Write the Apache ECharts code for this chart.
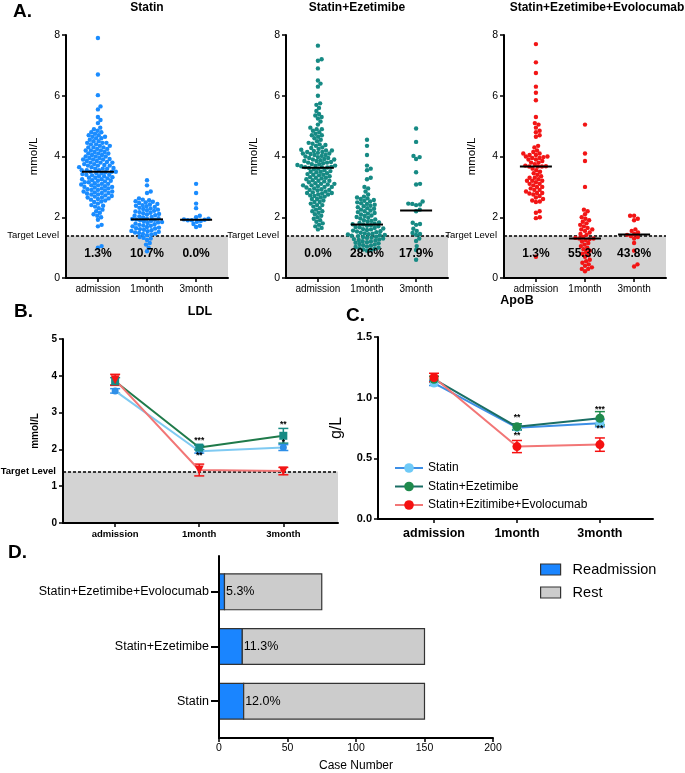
<!DOCTYPE html>
<html><head><meta charset="utf-8">
<script src="https://cdn.jsdelivr.net/npm/echarts@6/dist/echarts.min.js"></script>
<style>html,body{margin:0;padding:0;background:#fff}#c{width:685px;height:773px}</style>
</head><body><div id="c"></div>
<script>
const FONT = '"Liberation Sans", Arial, Helvetica, sans-serif';
const timepoints = ['admission', '1month', '3month'];
const targetLevel = 1.4;

// ---------- Panel A: individual LDL values (mmol/L) ----------
const statinAdmission = [7.9,6.7,6.02,5.65,5.55,5.3,5.2,5.1,
 4.95,4.9,4.85,4.8,4.8,4.75,4.7,4.7,4.65,4.65,4.6,4.6,4.55,4.5,4.5,
 4.45,4.45,4.4,4.4,4.35,4.35,4.3,4.3,4.25,4.25,4.2,4.2,4.15,4.15,4.1,4.1,4.05,4.05,4.0,4.0,4.0,4.45,4.3,4.2,4.1,
 3.95,3.95,3.9,3.9,3.9,3.85,3.85,3.8,3.8,3.8,3.75,3.75,3.7,3.7,3.7,3.65,3.65,3.6,3.6,3.6,3.55,3.55,3.55,3.5,3.5,3.5,3.92,3.82,3.72,3.62,
 3.48,3.45,3.45,3.42,3.4,3.4,3.38,3.35,3.35,3.32,3.3,3.3,3.28,3.25,3.25,3.22,3.2,3.2,3.18,3.15,3.15,3.12,3.1,3.1,3.08,3.05,3.05,3.02,3.0,3.0,
 2.98,2.95,2.95,2.92,2.9,2.9,2.88,2.85,2.85,2.82,2.8,2.8,2.78,2.75,2.75,2.72,2.7,2.68,2.65,2.65,2.62,2.6,2.58,2.55,2.52,2.5,
 2.45,2.4,2.38,2.35,2.3,2.25,2.2,2.15,2.1,2.05,2.0,1.92,1.75,1.7,1.05,1.0];
const statin1Month = [3.22,3.05,2.85,2.8,2.62,
 2.58,2.56,2.53,2.51,2.49,2.47,2.44,2.42,2.4,2.38,2.36,2.34,2.31,2.29,2.27,2.25,2.23,2.21,2.19,2.17,2.15,2.13,2.11,2.09,2.07,2.05,2.03,2.01,1.99,1.97,1.95,1.94,
 1.93,
 1.92,1.9,1.88,1.86,1.84,1.83,1.81,1.79,1.77,1.75,1.73,1.72,1.7,1.68,1.66,1.64,1.63,1.61,1.59,1.57,1.55,1.54,1.52,1.5,1.48,1.46,1.45,1.43,1.41,
 1.35,1.32,1.3,1.25,1.15,1.1,1.0,0.88];
const statin3Month = [3.1,2.8,2.45,2.3,2.05,2.0,1.95,1.93,1.92,1.9,1.9,1.88,1.85,1.78,1.72,1.68];

const ezeAdmission = [7.65,7.2,7.15,6.9,6.5,6.4,6.3,6.0,5.75,5.7,5.6,5.5,5.4,5.35,5.3,5.25,5.15,5.05,
 4.95,4.9,4.85,4.8,4.75,4.7,4.65,4.6,4.55,4.5,4.9,4.7,
 4.45,4.42,4.4,4.38,4.35,4.3,4.28,4.25,4.22,4.2,4.18,4.15,4.12,4.1,4.08,4.05,4.02,4.0,4.2,4.15,4.1,4.05,
 3.98,3.95,3.92,3.9,3.88,3.85,3.82,3.8,3.78,3.75,3.72,3.7,3.68,3.66,3.65,3.64,3.85,3.75,3.7,3.65,3.95,3.9,3.8,
 3.62,3.6,3.58,3.55,3.52,3.5,3.48,3.45,3.42,3.4,3.38,3.35,3.32,3.3,3.28,3.25,3.22,3.2,3.18,3.15,
 3.12,3.1,3.08,3.05,3.02,3.0,2.98,2.95,2.92,2.9,2.88,2.85,2.82,2.8,2.78,2.75,
 2.72,2.7,2.68,2.65,2.6,2.55,2.5,2.45,2.4,2.35,2.3,2.25,2.2,2.15,2.1,2.05,2.0,1.95,1.9,1.85,
 1.8,1.75,1.7,1.65,1.6,2.9,3.1,3.3,3.5,2.6,2.4,2.2,2.8,3.0,3.2,3.4,2.5,2.75,3.05];
const eze1Month = [4.55,4.35,4.05,3.7,3.6,3.55,3.3,3.25,3.0,2.95,2.85,2.75,
 2.68,2.65,2.62,2.6,2.57,2.54,2.52,2.49,2.46,2.44,2.41,2.38,2.36,2.33,2.3,2.28,2.25,2.22,2.2,2.17,2.14,2.12,2.09,2.06,2.04,2.01,1.98,1.96,1.93,1.9,1.88,1.85,1.83,1.81,1.79,1.77,
 1.76,
 1.74,1.72,1.7,1.68,1.67,1.65,1.63,1.61,1.6,1.58,1.56,1.54,1.53,1.51,1.49,1.47,1.46,1.44,1.43,1.42,1.41,
 1.39,1.38,1.36,1.35,1.33,1.32,1.3,1.28,1.27,1.25,1.23,1.21,1.2,1.18,1.16,1.14,1.12,1.1,1.08,1.06,1.04,1.02,1.0,0.98,0.96,0.94,0.92,0.9];
const eze3Month = [4.92,4.48,4.02,3.98,3.92,3.48,3.1,3.08,2.52,2.45,2.44,2.42,2.4,2.25,2.2,1.82,1.78,1.75,1.62,1.55,1.48,1.45,1.42,1.3,1.22,1.05,0.92,0.6];

const evoAdmission = [7.7,7.1,6.75,6.3,6.1,5.85,5.3,5.1,5.05,4.95,4.85,4.8,4.7,4.65,4.35,4.3,4.2,4.15,4.1,4.1,
 4.05,4.05,4.0,4.0,3.98,3.95,3.95,3.9,3.9,3.85,3.8,3.8,3.75,3.7,3.68,3.67,3.67,3.67,
 3.6,3.55,3.5,3.45,3.4,3.35,3.3,3.25,3.2,3.2,3.15,3.1,3.1,3.05,3.0,2.95,2.9,2.85,2.8,2.8,2.78,2.75,2.7,2.65,2.6,2.55,2.52,2.5,2.2,2.15,2.0,1.97,3.3,3.0,2.9,3.2,0.7];
const evo1Month = [5.05,4.1,3.85,3.0,2.25,2.2,2.1,2.0,1.95,1.9,1.85,1.8,1.75,1.7,1.65,1.6,1.6,1.55,1.5,1.45,1.42,
 1.35,1.32,1.3,1.3,1.28,1.25,1.2,1.15,1.1,1.05,1.0,0.95,0.9,0.85,0.8,0.75,0.7,0.6,0.55,0.5,0.45,0.4,0.35,0.3,0.3,0.22];
const evo3Month = [2.05,2.05,1.95,1.9,1.6,1.55,1.5,1.45,1.42,1.38,1.35,1.3,1.15,0.9,0.45,0.38];

const statinMedians = [3.5, 1.93, 1.92];
const ezeMedians = [3.63, 1.76, 2.22];
const evoMedians = [3.67, 1.3, 1.43];
const statinBelowPct = ['1.3%', '10.7%', '0.0%'];
const ezeBelowPct = ['0.0%', '28.6%', '17.9%'];
const evoBelowPct = ['1.3%', '55.3%', '43.8%'];

// ---------- Panel B: LDL mean ± SEM (mmol/L) ----------
const ldlStatin = [3.59, 1.95, 2.05];
const ldlStatinErr = [0.06, 0.05, 0.08];
const ldlEze = [3.85, 2.05, 2.37];
const ldlEzeErr = [0.1, 0.06, 0.2];
const ldlEvo = [3.89, 1.44, 1.41];
const ldlEvoErr = [0.15, 0.16, 0.1];
const ldlStars = [[1, 2.24, '***'], [1, 1.83, '**'], [2, 2.66, '**'], [2, 2.17, '*']];

// ---------- Panel C: ApoB mean ± SEM (g/L) ----------
const apoStatin = [1.12, 0.753, 0.79];
const apoStatinErr = [0.02, 0.02, 0.03];
const apoEze = [1.152, 0.76, 0.83];
const apoEzeErr = [0.025, 0.025, 0.055];
const apoEvo = [1.166, 0.597, 0.613];
const apoEvoErr = [0.035, 0.05, 0.055];
const apoStars = [[1, 0.835, '**'], [1, 0.69, '**'], [2, 0.905, '***'], [2, 0.745, '**']];

// ---------- Panel D: readmission ----------
const groups = ['Statin', 'Statin+Ezetimibe', 'Statin+Ezetimibe+Evolocumab'];
const readmission = [18, 17, 4];
const rest = [132, 133, 71];
const readmissionPct = ['12.0%', '11.3%', '5.3%'];

// ---------- layout ----------
const gridsA = [
  {left: 66, top: 35, width: 162, height: 243},
  {left: 286, top: 35, width: 162, height: 243},
  {left: 504, top: 35, width: 162, height: 243}
];
const gridB = {left: 63, top: 339, width: 275, height: 184};
const gridC = {left: 378, top: 337, width: 275, height: 182};
const gridD = {left: 219, top: 556, width: 274, height: 183};
const AX = [-0.65, 2.65];

function swarm(values, cat, grid, yMax, xRange, d) {
  const pyu = grid.height / yMax;
  const pxu = grid.width / (xRange[1] - xRange[0]);
  const pts = values.map(v => ({v, py: v * pyu})).sort((a, b) => a.py - b.py);
  const placed = [], out = [];
  for (const p of pts) {
    const near = placed.filter(q => Math.abs(q.py - p.py) < d);
    const cands = [0];
    for (const q of near) {
      const dy = q.py - p.py, dx = Math.sqrt(d * d - dy * dy);
      cands.push(q.px + dx, q.px - dx);
    }
    cands.sort((a, b) => Math.abs(a) - Math.abs(b));
    let chosen = 0;
    for (const c of cands) {
      if (near.every(q => (q.px - c) ** 2 + (q.py - p.py) ** 2 >= d * d - 1e-6)) { chosen = c; break; }
    }
    p.px = chosen; placed.push(p);
    out.push([cat + chosen / pxu, p.v]);
  }
  return out;
}

function textSeries(idx, data, font, align) {
  return {
    type: 'custom', xAxisIndex: idx, yAxisIndex: idx, silent: true, z: 30,
    data: data.map(d => [d[0], d[1]]),
    renderItem: (p, api) => {
      const pt = api.coord([api.value(0), api.value(1)]);
      return {type: 'text', x: pt[0], y: pt[1],
        style: {text: data[p.dataIndex][2], fill: '#000', font: font, align: align || 'center', verticalAlign: 'middle'}};
    }
  };
}
function medianSeries(idx, medians) {
  return {
    type: 'custom', xAxisIndex: idx, yAxisIndex: idx, silent: true, z: 25,
    data: medians.map((m, i) => [i, m]),
    renderItem: (p, api) => {
      const pt = api.coord([api.value(0), api.value(1)]);
      return {type: 'line', shape: {x1: pt[0] - 16, y1: pt[1], x2: pt[0] + 16, y2: pt[1]},
        style: {stroke: '#000', lineWidth: 2}};
    }
  };
}
function errSeries(idx, means, errs, color) {
  return {
    type: 'custom', xAxisIndex: idx, yAxisIndex: idx, silent: true, z: 3,
    data: means.map((m, i) => [i, m, errs[i]]),
    renderItem: (p, api) => {
      const x = api.value(0), m = api.value(1), e = api.value(2);
      const t = api.coord([x, m + e]), b = api.coord([x, m - e]);
      const w = 5, st = {stroke: color, lineWidth: 1.5};
      return {type: 'group', children: [
        {type: 'line', shape: {x1: t[0], y1: t[1], x2: b[0], y2: b[1]}, style: st},
        {type: 'line', shape: {x1: t[0] - w, y1: t[1], x2: t[0] + w, y2: t[1]}, style: st},
        {type: 'line', shape: {x1: b[0] - w, y1: b[1], x2: b[0] + w, y2: b[1]}, style: st}
      ]};
    }
  };
}
function targetMarks(boldLabel, fs) {
  return {
    markArea: {silent: true, itemStyle: {color: '#d3d3d3'}, data: [[{yAxis: 0}, {yAxis: targetLevel}]]},
    markLine: {silent: true, symbol: 'none',
      lineStyle: {color: '#000', type: [3, 2], width: 1.5},
      label: {show: true, position: 'start', formatter: 'Target Level', color: '#000',
        fontSize: fs, fontWeight: boldLabel ? 'bold' : 'normal', fontFamily: FONT, distance: 7},
      data: [{yAxis: targetLevel}]}
  };
}

function catX(i, range, fs, bold, margin) {
  return {type: 'value', gridIndex: i, min: range[0], max: range[1], z: 10,
    axisLine: {show: true, onZero: false, lineStyle: {color: '#000', width: 2}},
    axisTick: {show: true, customValues: [0, 1, 2], length: 4, lineStyle: {color: '#000', width: 1.5}},
    axisLabel: {customValues: [0, 1, 2], formatter: v => timepoints[Math.round(v)], fontSize: fs,
      fontWeight: bold ? 'bold' : 'normal', color: '#000', fontFamily: FONT, margin: margin},
    splitLine: {show: false}};
}
function valY(i, max, interval, fs, bold, name, nameFs, nameBold, nameGap, fmt) {
  return {type: 'value', gridIndex: i, min: 0, max: max, interval: interval, z: 10,
    name: name, nameLocation: 'middle', nameGap: nameGap,
    nameTextStyle: {fontSize: nameFs, fontWeight: nameBold ? 'bold' : 'normal', color: '#000', fontFamily: FONT},
    axisLine: {show: true, onZero: false, lineStyle: {color: '#000', width: 2}},
    axisTick: {show: true, length: 4, lineStyle: {color: '#000', width: 1.5}},
    axisLabel: {fontSize: fs, fontWeight: bold ? 'bold' : 'normal', color: '#000', fontFamily: FONT, margin: 6,
      formatter: fmt},
    splitLine: {show: false}};
}

const panelA = [
  {vals: [statinAdmission, statin1Month, statin3Month], med: statinMedians, pct: statinBelowPct, color: '#1a8cff'},
  {vals: [ezeAdmission, eze1Month, eze3Month], med: ezeMedians, pct: ezeBelowPct, color: '#168a84'},
  {vals: [evoAdmission, evo1Month, evo3Month], med: evoMedians, pct: evoBelowPct, color: '#f21515'}
];

const grids = [...gridsA, gridB, gridC, gridD];
const xAxes = [], yAxes = [], series = [];
panelA.forEach((pa, i) => {
  xAxes.push(catX(i, AX, 10, false, 6));
  yAxes.push(valY(i, 8, 2, 10.5, false, 'mmol/L', 11.5, false, 26));
  let pts = [];
  pa.vals.forEach((v, c) => { pts = pts.concat(swarm(v, c, gridsA[i], 8, AX, 4.0)); });
  series.push(Object.assign({type: 'scatter', xAxisIndex: i, yAxisIndex: i, data: pts, symbolSize: 4.4,
    itemStyle: {color: pa.color, opacity: 1}, silent: true, z: 5}, targetMarks(false, 9.5)));
  series.push(medianSeries(i, pa.med));
  series.push(textSeries(i, pa.pct.map((t, c) => [c, 0.79, t]), 'bold 12px ' + FONT));
});

// Panel B
const BX = [-0.62, 2.65];
xAxes.push(catX(3, BX, 9.5, true, 6));
yAxes.push(valY(3, 5, 1, 10, true, 'mmol/L', 10, true, 23));
const lineDefs = (vals, name, lineColor, markColor, symbol, size, idx) => ({
  type: 'line', name: name, xAxisIndex: idx, yAxisIndex: idx, data: vals.map((v, i) => [i, v]),
  symbol: symbol, symbolSize: size, showSymbol: true, z: 5,
  lineStyle: {color: lineColor, width: 2}, itemStyle: {color: markColor}
});
series.push(Object.assign(lineDefs(ldlStatin, 'LDL Statin', '#7fcaf2', '#2e8fe8', 'circle', 7, 3), targetMarks(true, 9.5)));
series.push(lineDefs(ldlEze, 'LDL Statin+Ezetimibe', '#1f7a4a', '#168a84', 'rect', 8, 3));
series.push(lineDefs(ldlEvo, 'LDL Evolocumab', '#f27676', '#f21515', 'triangle', 9, 3));
series[series.length - 1].symbolRotate = 180;
series.push(errSeries(3, ldlStatin, ldlStatinErr, '#2e8fe8'));
series.push(errSeries(3, ldlEze, ldlEzeErr, '#168a84'));
series.push(errSeries(3, ldlEvo, ldlEvoErr, '#f21515'));
series.push(textSeries(3, ldlStars, 'bold 8.5px ' + FONT));

// Panel C
const CX = [-0.675, 2.64];
xAxes.push(catX(4, CX, 12.5, true, 8));
yAxes.push(valY(4, 1.5, 0.5, 11, true, 'g/L', 16, false, 33, v => v.toFixed(1)));
series.push(lineDefs(apoStatin, 'Statin', '#3d8fe6', '#6fcaf7', 'circle', 9, 4));
series.push(lineDefs(apoEze, 'Statin+Ezetimibe', '#1a6e64', '#1f8a4d', 'circle', 9, 4));
series.push(lineDefs(apoEvo, 'Statin+Ezitimibe+Evolocumab', '#f27676', '#f51010', 'circle', 9, 4));
series.push(errSeries(4, apoStatin, apoStatinErr, '#3d8fe6'));
series.push(errSeries(4, apoEze, apoEzeErr, '#1f8a4d'));
series.push(errSeries(4, apoEvo, apoEvoErr, '#f51010'));
series.push(textSeries(4, apoStars, 'bold 8.5px ' + FONT));

// Panel D
xAxes.push({type: 'value', gridIndex: 5, min: 0, max: 200, interval: 50, z: 10,
  name: 'Case Number', nameLocation: 'middle', nameGap: 22,
  nameTextStyle: {fontSize: 12, color: '#000', fontFamily: FONT},
  axisLine: {show: true, onZero: false, lineStyle: {color: '#000', width: 2}},
  axisTick: {show: true, length: 4, lineStyle: {color: '#000', width: 1.5}},
  axisLabel: {fontSize: 10.5, color: '#000', fontFamily: FONT, margin: 5},
  splitLine: {show: false}});
yAxes.push({type: 'value', gridIndex: 5, min: -0.673, max: 2.655, z: 10,
  axisLine: {show: true, onZero: false, lineStyle: {color: '#000', width: 2}},
  axisTick: {show: true, customValues: [0, 1, 2], length: 8, lineStyle: {color: '#000', width: 2}},
  axisLabel: {customValues: [0, 1, 2], formatter: v => groups[Math.round(v)], fontSize: 12.5,
    color: '#000', fontFamily: FONT, margin: 10},
  splitLine: {show: false}});
const barSeries = (name, starts, ends, color, labels) => ({
  type: 'custom', name: name, xAxisIndex: 5, yAxisIndex: 5, z: 5,
  itemStyle: {color: color, borderColor: '#333', borderWidth: 1.2},
  data: starts.map((s, i) => [s, ends[i], i]),
  encode: {x: [0, 1], y: 2},
  renderItem: (p, api) => {
    const s = api.value(0), e = api.value(1), c = api.value(2);
    const p0 = api.coord([s, c]), p1 = api.coord([e, c]);
    const h = api.size([0, 0.655])[1];
    const kids = [{type: 'rect', shape: {x: p0[0], y: p0[1] - h / 2, width: p1[0] - p0[0], height: h},
      style: {fill: color, stroke: '#333', lineWidth: 1.2}}];
    if (labels) kids.push({type: 'text', x: p0[0] + 1.5, y: p0[1],
      style: {text: labels[p.dataIndex], fill: '#000', font: '12.5px ' + FONT, align: 'left', verticalAlign: 'middle'}});
    return {type: 'group', children: kids};
  }
});
series.push(barSeries('Readmission', readmission.map(() => 0), readmission, '#1a85ff', null));
series.push(barSeries('Rest', readmission, readmission.map((r, i) => r + rest[i]), '#cccccc', readmissionPct));

const gtext = (x, y, text, font, align) => ({type: 'text', x: x, y: y, z: 50,
  style: {text: text, font: font, fill: '#000', align: align || 'left', verticalAlign: 'middle'}});

const option = {
  animation: false,
  backgroundColor: '#fff',
  textStyle: {fontFamily: FONT},
  grid: grids.map(g => Object.assign({containLabel: false}, g)),
  xAxis: xAxes, yAxis: yAxes, series: series,
  legend: [
    {data: ['Statin', 'Statin+Ezetimibe', 'Statin+Ezitimibe+Evolocumab'], orient: 'vertical', left: 389, top: 457,
      itemWidth: 28, itemHeight: 12, itemGap: 6.5, selectedMode: false,
      textStyle: {fontSize: 12, color: '#000', fontFamily: FONT}},
    {data: ['Readmission', 'Rest'], orient: 'vertical', left: 535, top: 557, icon: 'rect',
      itemWidth: 20, itemHeight: 11, itemGap: 8, selectedMode: false,
      itemStyle: {borderColor: '#333', borderWidth: 1.2},
      textStyle: {fontSize: 14.5, color: '#000', fontFamily: FONT, padding: [0, 0, 0, 7]}}
  ],
  graphic: [
    gtext(13, 12, 'A.', 'bold 19px ' + FONT),
    gtext(147, 8, 'Statin', 'bold 12px ' + FONT, 'center'),
    gtext(357, 8, 'Statin+Ezetimibe', 'bold 12px ' + FONT, 'center'),
    gtext(597, 8, 'Statin+Ezetimibe+Evolocumab', 'bold 12px ' + FONT, 'center'),
    gtext(14, 312, 'B.', 'bold 19px ' + FONT),
    gtext(200, 312, 'LDL', 'bold 12.5px ' + FONT, 'center'),
    gtext(346, 316, 'C.', 'bold 19px ' + FONT),
    gtext(517, 301, 'ApoB', 'bold 12.5px ' + FONT, 'center'),
    gtext(8, 553, 'D.', 'bold 19px ' + FONT)
  ]
};
const chart = echarts.init(document.getElementById('c'), null, {renderer: 'canvas'});
chart.setOption(option);
</script></body></html>
